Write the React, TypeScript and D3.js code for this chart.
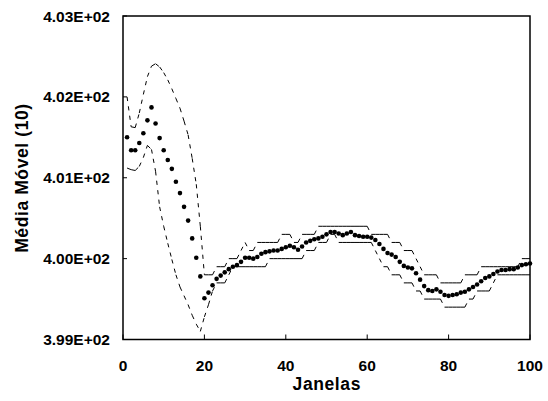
import React from "react";
import * as d3 from "d3";

// Moving average (10) per window, windows 1..100
const meanValues: number[] = [
  401.50, 401.34, 401.34, 401.43, 401.55, 401.71, 401.87, 401.67, 401.49, 401.34,
  401.22, 401.11, 400.95, 400.81, 400.64, 400.47, 400.25, 400.01, 399.78, 399.51,
  399.58, 399.67, 399.75, 399.79, 399.83, 399.87, 399.90, 399.92, 399.96, 400.01,
  400.01, 400.00, 400.02, 400.06, 400.08, 400.09, 400.10, 400.10, 400.12, 400.14,
  400.16, 400.14, 400.11, 400.15, 400.20, 400.22, 400.24, 400.25, 400.27, 400.30,
  400.33, 400.33, 400.31, 400.29, 400.31, 400.33, 400.29, 400.28, 400.27, 400.27,
  400.26, 400.23, 400.18, 400.12, 400.07, 400.05, 400.02, 399.96, 399.91, 399.89,
  399.88, 399.82, 399.74, 399.66, 399.61, 399.60, 399.62, 399.59, 399.55, 399.54,
  399.55, 399.56, 399.58, 399.59, 399.62, 399.65, 399.68, 399.72, 399.76, 399.78,
  399.81, 399.84, 399.86, 399.86, 399.87, 399.87, 399.89, 399.92, 399.93, 399.94,
];

const upperValues: number[] = [
  402.00, 401.63, 401.62, 401.80, 402.03, 402.25, 402.38, 402.41, 402.37, 402.30,
  402.21, 402.10, 401.98, 401.86, 401.70, 401.53, 401.24, 400.92, 400.40, 399.80,
  399.80, 399.80, 399.90, 399.90, 399.90, 400.00, 400.00, 400.00, 400.10, 400.20,
  400.10, 400.10, 400.20, 400.20, 400.20, 400.20, 400.20, 400.20, 400.30, 400.30,
  400.30, 400.20, 400.20, 400.30, 400.30, 400.30, 400.30, 400.40, 400.40, 400.40,
  400.40, 400.40, 400.40, 400.40, 400.40, 400.40, 400.40, 400.40, 400.40, 400.40,
  400.30, 400.30, 400.30, 400.30, 400.30, 400.20, 400.20, 400.20, 400.10, 400.10,
  400.10, 400.00, 399.90, 399.80, 399.80, 399.80, 399.80, 399.70, 399.70, 399.70,
  399.70, 399.70, 399.70, 399.80, 399.80, 399.80, 399.80, 399.90, 399.90, 399.90,
  399.90, 399.90, 399.90, 399.90, 399.90, 399.90, 399.90, 400.00, 400.00, 400.00,
];

const lowerValues: number[] = [
  401.12, 401.10, 401.09, 401.14, 401.25, 401.40, 401.35, 401.08, 400.64, 400.40,
  400.19, 399.99, 399.80, 399.65, 399.54, 399.43, 399.30, 399.19, 399.10, 399.28,
  399.43, 399.60, 399.70, 399.70, 399.70, 399.80, 399.90, 399.90, 399.90, 399.90,
  399.90, 399.90, 399.90, 399.90, 399.90, 400.00, 400.00, 400.00, 400.00, 400.00,
  400.00, 400.00, 400.00, 400.00, 400.10, 400.10, 400.10, 400.20, 400.20, 400.20,
  400.30, 400.30, 400.20, 400.20, 400.20, 400.20, 400.20, 400.20, 400.20, 400.20,
  400.20, 400.10, 400.00, 399.90, 399.90, 399.80, 399.80, 399.80, 399.70, 399.70,
  399.70, 399.60, 399.60, 399.50, 399.50, 399.50, 399.50, 399.50, 399.40, 399.40,
  399.40, 399.40, 399.40, 399.40, 399.50, 399.50, 399.60, 399.60, 399.60, 399.60,
  399.70, 399.80, 399.80, 399.80, 399.80, 399.80, 399.80, 399.80, 399.80, 399.80,
];

const xTicks: number[] = [0, 20, 40, 60, 80, 100];
const yTicks: number[] = [399, 400, 401, 402, 403];
const yTickLabels: string[] = ["3.99E+02", "4.00E+02", "4.01E+02", "4.02E+02", "4.03E+02"];
const xTitle = "Janelas";
const yTitle = "Média Móvel (10)";

const W = 548;
const H = 401;
const M = { left: 123, right: 530, top: 16, bottom: 339.5 };
const FONT = "Arial, 'Liberation Sans', sans-serif";

export default function App() {
  const x = d3.scaleLinear().domain([0, 100]).range([M.left, M.right]);
  const y = d3.scaleLinear().domain([399, 403]).range([M.bottom, M.top]);
  const line = d3.line<[number, number]>().x((d) => x(d[0])).y((d) => y(d[1]));

  const segments = (vals: number[]) =>
    vals.slice(0, -1).map((v, k) =>
      line([
        [k + 1, v],
        [k + 2, vals[k + 1]],
      ])
    );

  const renderBand = (vals: number[], key: string) =>
    segments(vals).map((d, k) => (
      <path
        key={key + k}
        d={d || ""}
        fill="none"
        stroke="#000"
        strokeWidth={1}
        strokeDasharray="4.2 5.3"
      />
    ));

  return (
    <svg
      width={W}
      height={H}
      style={{ position: "absolute", left: 0, top: 0, background: "#fff" }}
      fontFamily={FONT}
    >
      <rect x={0} y={0} width={W} height={H} fill="#fff" />
      {renderBand(upperValues, "u")}
      {renderBand(lowerValues, "l")}
      {meanValues.map((v, k) => (
        <circle key={"m" + k} cx={x(k + 1)} cy={y(v)} r={2.3} fill="#000" />
      ))}
      <rect
        x={M.left}
        y={M.top}
        width={M.right - M.left}
        height={M.bottom - M.top}
        fill="none"
        stroke="#000"
        strokeWidth={1.5}
      />
      {yTicks.map((t, i) => (
        <g key={"yt" + i}>
          <line x1={M.left} x2={M.left + 4} y1={y(t)} y2={y(t)} stroke="#000" strokeWidth={1} />
          <text
            x={110}
            y={y(t)}
            dy="0.36em"
            textAnchor="end"
            fontSize={15.5}
            fontWeight="bold"
          >
            {yTickLabels[i]}
          </text>
        </g>
      ))}
      {xTicks.map((t, i) => (
        <g key={"xt" + i}>
          <line x1={x(t)} x2={x(t)} y1={M.bottom} y2={M.bottom - 5} stroke="#000" strokeWidth={1} />
          <text x={x(t)} y={371} textAnchor="middle" fontSize={15.5} fontWeight="bold">
            {t}
          </text>
        </g>
      ))}
      <text
        x={(M.left + M.right) / 2 + 0.3}
        y={390}
        textAnchor="middle"
        fontSize={17.5}
        fontWeight="bold"
        letterSpacing={0.6}
      >
        {xTitle}
      </text>
      <text
        transform={`translate(28, ${(M.top + M.bottom) / 2 + 0.3}) rotate(-90)`}
        textAnchor="middle"
        fontSize={17.5}
        fontWeight="bold"
        letterSpacing={0.6}
      >
        {yTitle}
      </text>
    </svg>
  );
}
